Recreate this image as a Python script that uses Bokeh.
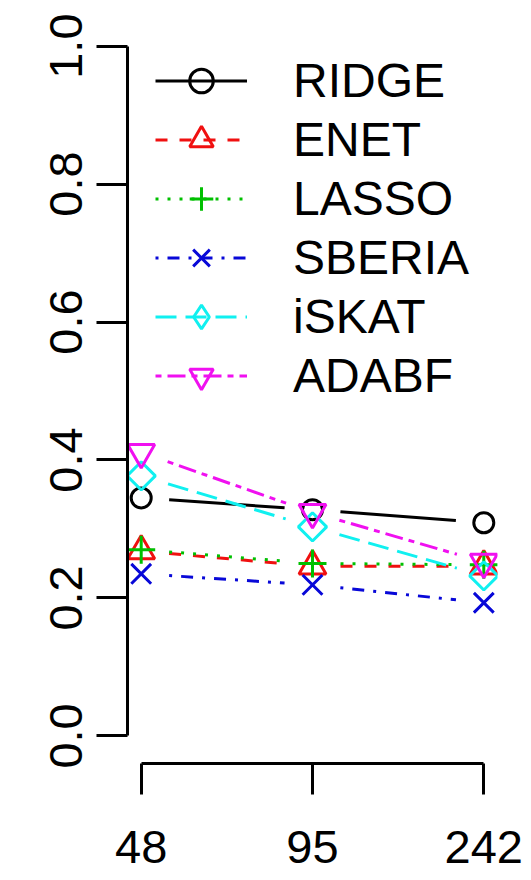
import math

from bokeh.plotting import figure
from bokeh.models import Range1d, FixedTicker, LinearAxis, Legend, LegendItem
from bokeh.embed import file_html
from bokeh.resources import INLINE

# Sample sizes on the x axis (drawn at equally spaced positions)
sample_sizes = ["48", "95", "242"]

# Power of each method at each sample size
ridge = [0.345, 0.328, 0.309]
enet = [0.268, 0.246, 0.246]
lasso = [0.270, 0.250, 0.248]
sberia = [0.235, 0.219, 0.193]
iskat = [0.377, 0.303, 0.232]
adabf = [0.411, 0.324, 0.252]

method_names = ["RIDGE", "ENET", "LASSO", "SBERIA", "iSKAT", "ADABF"]

y_ticks = [0.0, 0.2, 0.4, 0.6, 0.8, 1.0]
y_tick_labels = ["0.0", "0.2", "0.4", "0.6", "0.8", "1.0"]

# Page and frame geometry
W, H = 531, 880
LEFT, RIGHT, TOP, BOTTOM = 127, 34, 18, 117
X_RANGE = (0.92, 3.08)
Y_RANGE = (-0.04, 1.04)
FRAME_W = W - LEFT - RIGHT
FRAME_H = H - TOP - BOTTOM
PX_X = FRAME_W / (X_RANGE[1] - X_RANGE[0])
PX_Y = FRAME_H / (Y_RANGE[1] - Y_RANGE[0])
GAP = 28          # pixels left open around each point (line + points style)
LW = 3
FONT = "Liberation Sans"
FONT_SIZE = "47px"

p = figure(width=W, height=H, output_backend="svg", toolbar_location=None,
           x_range=Range1d(*X_RANGE), y_range=Range1d(*Y_RANGE),
           x_axis_type=None, y_axis_type=None,
           min_border_left=LEFT, min_border_right=RIGHT,
           min_border_top=TOP, min_border_bottom=BOTTOM)
p.outline_line_color = None
p.xgrid.visible = False
p.ygrid.visible = False
p.background_fill_color = "white"
p.border_fill_color = "white"


def gapped_segments(xs, ys):
    """Segments between consecutive points, shortened by GAP pixels at both ends."""
    x0s, y0s, x1s, y1s = [], [], [], []
    for i in range(len(xs) - 1):
        dx, dy = xs[i + 1] - xs[i], ys[i + 1] - ys[i]
        length = math.hypot(dx * PX_X, dy * PX_Y)
        f = GAP / length
        x0s.append(xs[i] + dx * f)
        y0s.append(ys[i] + dy * f)
        x1s.append(xs[i + 1] - dx * f)
        y1s.append(ys[i + 1] - dy * f)
    return x0s, y0s, x1s, y1s


styles = [
    # values, colour, dash, marker, size, angle, legend marker
    (ridge, "#000000", "solid", "circle", 20, 0.0, None),
    (enet, "#F01010", "12 12", "triangle", 27, 0.0, None),
    (lasso, "#00C000", "3 9", "cross", 28, 0.0, None),
    (sberia, "#0808D8", "3 9 12 9", "x", 28, 0.0, None),
    (iskat, "#10F0F0", "21 9", "square", 20, math.pi / 4, "diamond"),
    (adabf, "#F010F0", "6 6 18 6", "inverted_triangle", 27, 0.0, None),
]

xs = [i + 1 for i in range(len(sample_sizes))]
items = []
for name, (vals, color, dash, marker, size, angle, leg_marker) in zip(method_names, styles):
    x0, y0, x1, y1 = gapped_segments(xs, vals)
    seg = p.segment(x0=x0, y0=y0, x1=x1, y1=y1, line_color=color,
                    line_width=LW, line_dash=dash)
    pts = p.scatter(x=xs, y=vals, marker=marker, size=size, angle=angle,
                    fill_color=None, line_color=color, line_width=LW)
    key = pts
    if leg_marker is not None:
        # legend swatch only: legends draw markers unrotated
        key = p.scatter(x=[float("nan")], y=[float("nan")], marker=leg_marker,
                        fill_color=None, line_color=color, line_width=LW)
    items.append(LegendItem(label=name, renderers=[seg, key]))

legend = Legend(items=items, location=(28, 358), glyph_width=92, glyph_height=59,
                label_height=59, spacing=0, padding=0, margin=0, label_standoff=46,
                label_text_font=FONT, label_text_font_size="48px",
                label_text_color="black", border_line_color=None,
                background_fill_alpha=0)
p.add_layout(legend)

xaxis = LinearAxis(ticker=FixedTicker(ticks=xs),
                   major_label_overrides={x: s for x, s in zip(xs, sample_sizes)},
                   bounds=(xs[0], xs[-1]))
yaxis = LinearAxis(ticker=FixedTicker(ticks=y_ticks),
                   major_label_overrides={t: s for t, s in zip(y_ticks, y_tick_labels)},
                   bounds=(y_ticks[0], y_ticks[-1]),
                   major_label_orientation="vertical")
for ax in (xaxis, yaxis):
    ax.axis_line_width = LW
    ax.axis_line_color = "black"
    ax.major_tick_line_width = LW
    ax.major_tick_line_color = "black"
    ax.major_tick_out = 31
    ax.major_tick_in = 0
    ax.minor_tick_line_color = None
    ax.major_label_text_font = FONT
    ax.major_label_text_font_size = FONT_SIZE
    ax.major_label_text_color = "black"
xaxis.major_label_standoff = 36
yaxis.major_label_standoff = 14
p.add_layout(xaxis, "below")
p.add_layout(yaxis, "left")

open("out.html", "w").write(file_html(p, INLINE))
